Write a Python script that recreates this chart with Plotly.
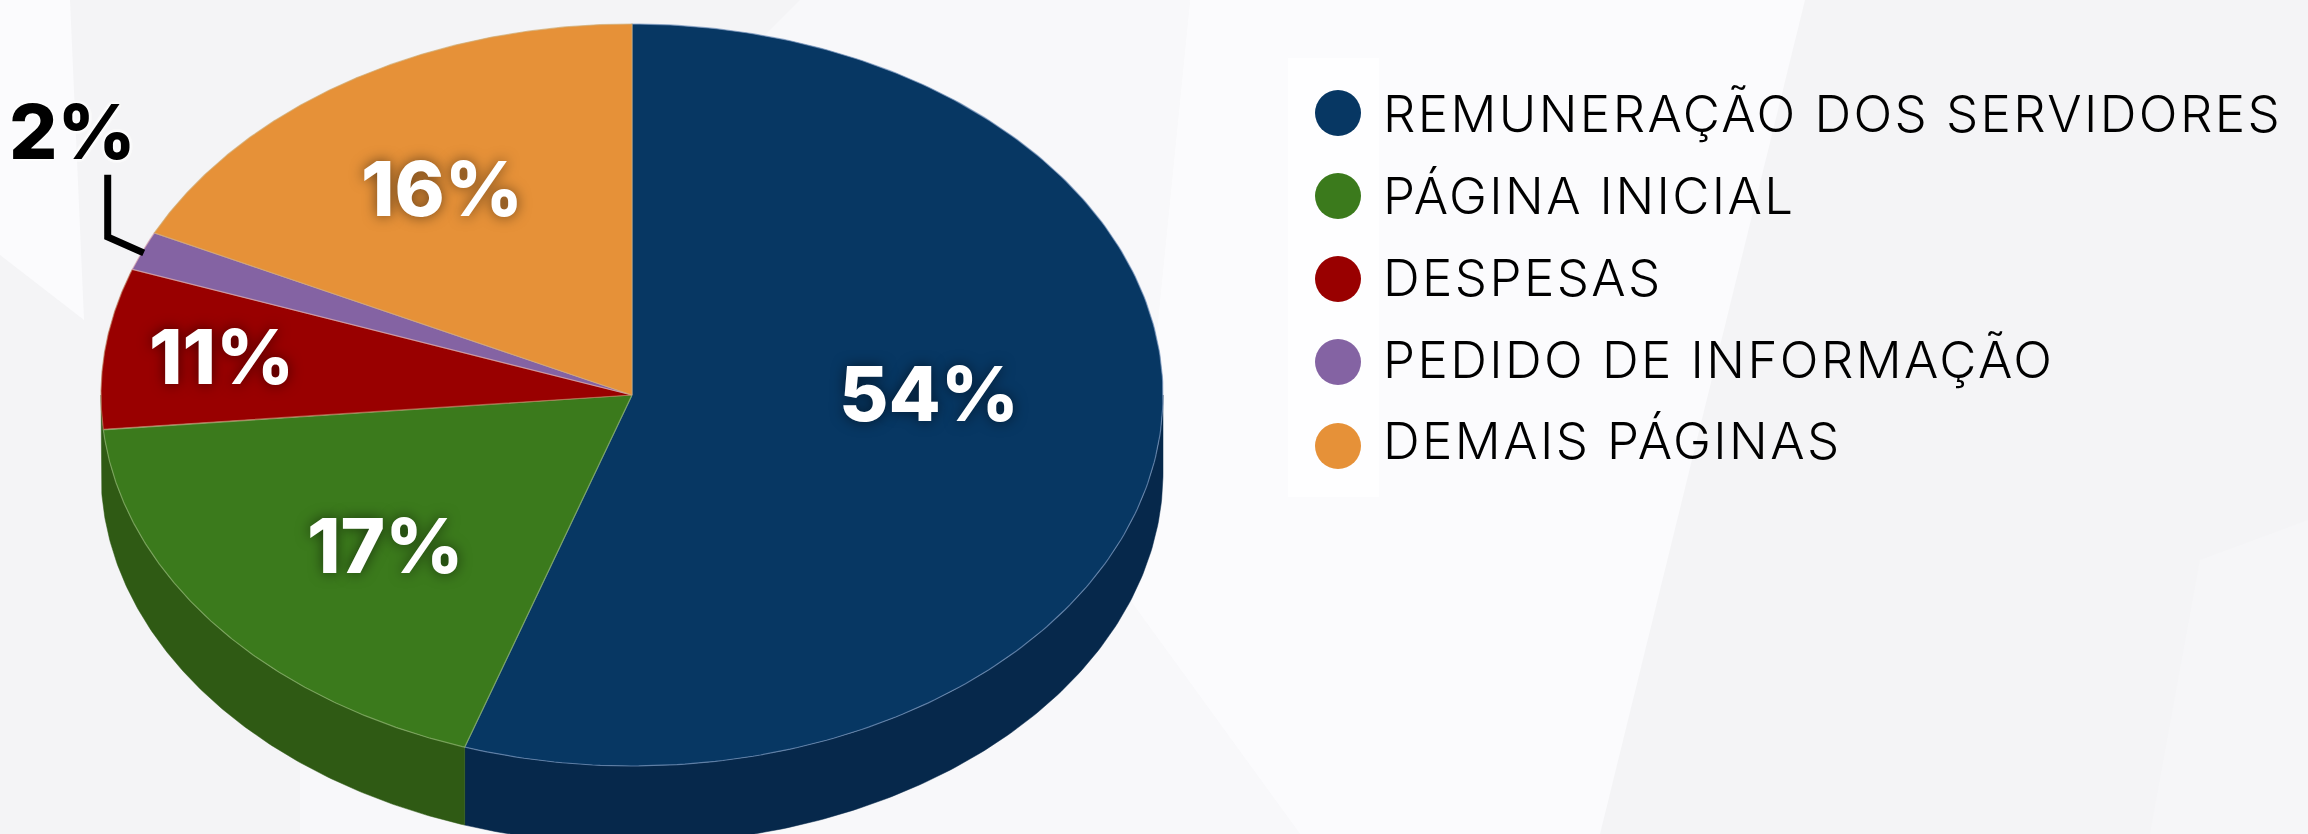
import numpy as np
import plotly.graph_objects as go

# Legend categories, top to bottom
categories = ["REMUNERAÇÃO DOS SERVIDORES", "PÁGINA INICIAL", "DESPESAS",
              "PEDIDO DE INFORMAÇÃO", "DEMAIS PÁGINAS"]
# Percentages as printed on the chart
printed_pct = [54, 17, 11, 2, 16]
# Slice sizes as drawn (the picture's slices do not follow the printed numbers exactly)
drawn_share = [55.1, 18.4, 7.0, 1.7, 17.8]
slice_colors = ["#073763", "#3b7a1c", "#990000", "#8463a3", "#e69138"]
wall_colors = ["#06284b", "#2f5a14"]
rim_colors = ["rgba(120,150,190,0.7)", "rgba(130,170,100,0.8)", "rgba(190,120,90,0.7)",
              "rgba(220,170,180,0.7)", "rgba(210,170,110,0.7)"]

W, H = 2308, 834
CX, CY, RX, RY, DEPTH = 632, 395, 531, 371, 78


def rim(t_deg, dy=0.0):
    t = np.radians(t_deg)
    return CX + RX * np.sin(t), CY - RY * np.cos(t) + dy


edges = np.concatenate([[0], np.cumsum(drawn_share)]) / np.sum(drawn_share) * 360

fig = go.Figure()

# Side wall: the viewer-facing rim, from the right edge round to the left edge.
# The top face is drawn afterwards and covers whatever the wall overshoots.
for i in range(2):
    a, b = max(edges[i], 90), (edges[i + 1] if i == 0 else 270)
    ts = np.linspace(a, b, 160)
    x1, y1 = rim(ts)
    x2, y2 = rim(ts[::-1], DEPTH)
    fig.add_trace(go.Scatter(
        x=np.r_[x1, x2, x1[0]], y=np.r_[y1, y2, y1[0]], mode="lines", fill="toself",
        fillcolor=wall_colors[i], line=dict(color=wall_colors[i], width=0.5),
        hoverinfo="skip", showlegend=False))

# Top face
for i, name in enumerate(categories):
    ts = np.linspace(edges[i], edges[i + 1], 240)
    x, y = rim(ts)
    fig.add_trace(go.Scatter(
        x=np.r_[CX, x, CX], y=np.r_[CY, y, CY], mode="lines", fill="toself",
        fillcolor=slice_colors[i], line=dict(color=rim_colors[i], width=1.2),
        name=name, hoverinfo="name", showlegend=False))

# Leader line for the small slice
mid = (edges[3] + edges[4]) / 2
px, py = rim(mid)
fig.add_trace(go.Scatter(
    x=[px + 1, px - 35, px - 35], y=[py + 2, py - 14, py - 76], mode="lines",
    line=dict(color="#000000", width=7), hoverinfo="skip", showlegend=False))

# Legend, drawn with the library's markers and text
legend_x = [1338] * 5
legend_marker_y = [113, 196, 279, 362, 446]
legend_text_y = [113, 195, 277, 359, 440]
fig.add_trace(go.Scatter(
    x=legend_x, y=legend_marker_y, mode="markers",
    marker=dict(size=46, color=slice_colors, line=dict(width=0)),
    hoverinfo="skip", showlegend=False))

base = "#f4f4f6"
mid_tone = "#f8f8fa"
light = "#fbfbfd"
shapes = [
    dict(type="rect", x0=0, x1=W, y0=0, y1=H, fillcolor=base, line_width=0, layer="below"),
    dict(type="path", path="M1190,0 L1130,600 L1300,834 L300,834 L300,500 L800,0 Z",
         fillcolor=mid_tone, line_width=0, layer="below"),
    dict(type="path", path="M1805,0 L1600,834 L1300,834 L1130,600 L1190,0 Z",
         fillcolor=light, line_width=0, layer="below"),
    dict(type="path", path="M0,0 L70,0 L84,320 L0,255 Z", fillcolor=light, line_width=0, layer="below"),
    dict(type="path", path="M2150,834 L2200,560 L2308,520 L2308,834 Z", fillcolor="#f6f6f8",
         line_width=0, layer="below"),
    dict(type="rect", x0=1288, x1=1379, y0=58, y1=497, fillcolor="#fefeff", line_width=0, layer="below"),
]

annotations = []
label_pos = [(929, 393), (385, 545), (221, 356), (72, 131), (442, 188)]
for i, p in enumerate(printed_pct):
    dark = i == 3
    annotations.append(dict(
        x=label_pos[i][0], y=label_pos[i][1], xref="x", yref="y", text=f"{p}%", showarrow=False,
        xanchor="center", yanchor="middle",
        font=dict(family="Inter, Lato, sans-serif", size=76, weight=800,
                  color="#000000" if dark else "#ffffff",
                  shadow="0 0 5px #ffffff, 0 0 5px #ffffff, 0 0 5px #ffffff, 0 0 5px #ffffff" if dark
                  else "0 0 14px rgba(0,0,0,0.55)")))
for name, y in zip(categories, legend_text_y):
    annotations.append(dict(
        x=1381, y=y, xref="x", yref="y", text=name, showarrow=False,
        xanchor="left", yanchor="middle", align="left",
        font=dict(family="Inter, Lato, sans-serif", size=51, weight=300, color="#000000")))

fig.update_layout(
    width=W, height=H, margin=dict(l=0, r=0, t=0, b=0, pad=0),
    paper_bgcolor=base, plot_bgcolor=base, showlegend=False,
    xaxis=dict(range=[0, W], visible=False, fixedrange=True),
    yaxis=dict(range=[H, 0], visible=False, fixedrange=True),
    shapes=shapes, annotations=annotations)

post = """
document.body.style.margin='0';document.body.style.overflow='hidden';
var s=document.createElement('style');
s.textContent='.annotation-text[style*="font-weight: 300"]{letter-spacing:2.4px;}';
document.head.appendChild(s);
"""
fig.write_html("out.html", post_script=post, config={"displayModeBar": False})
